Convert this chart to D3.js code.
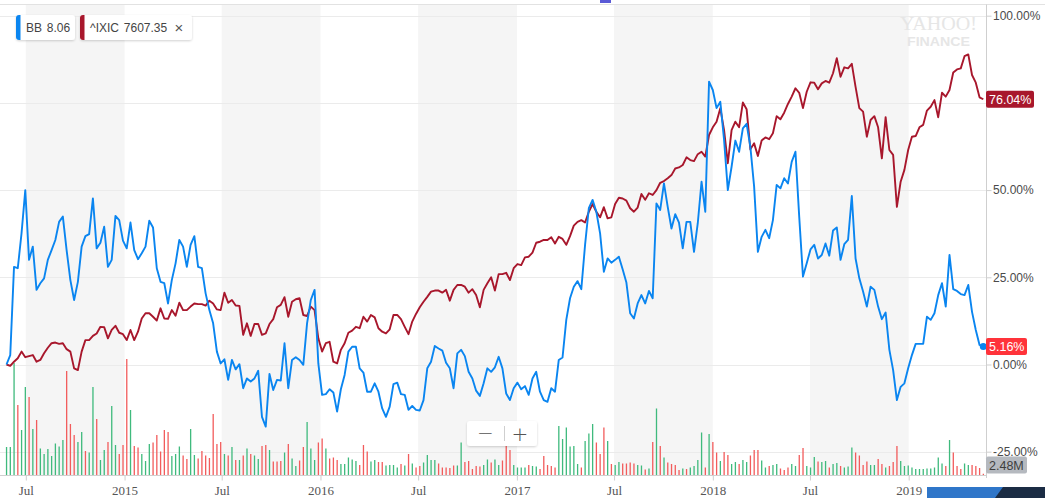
<!DOCTYPE html>
<html><head><meta charset="utf-8">
<script src="https://cdn.jsdelivr.net/npm/d3@7"></script>
<style>
body{margin:0;background:#fff;}
svg{display:block;font-family:"Liberation Sans",Arial,sans-serif;}
</style>
</head><body>
<svg id="chart" width="1045" height="498"></svg>
<script>
// ---------- DATA (weekly, starting week of 2014-05-26) ----------
const startDate = new Date(Date.UTC(2014, 4, 26));
const seriesNames = ["BB", "^IXIC"];
const seriesQuotes = ["8.06", "7607.35"];

// BB % change since start
const bbPct = [
  0, 2.7, 28.0, 27.6, 37.6, 50.0, 30.0, 33.8, 21.4, 23.3,
  24.7, 30.0, 32.8, 35.7, 40.9, 42.4, 32.8, 24.2, 18.5, 23.7,
  33.8, 36.8, 37.4, 47.6, 33.3, 34.9, 39.5, 28.0, 30.0, 42.6,
  41.4, 35.5, 33.3, 40.7, 32.8, 30.2, 31.9, 33.8, 41.2, 39.3,
  27.6, 23.7, 23.3, 17.5, 24.2, 29.0, 35.7, 33.8, 28.0, 34.3,
  36.8, 28.0, 27.6, 20.4, 15.6, 11.8, 3.7, 0.3, 1.5, -4.4,
  1.3, -1.4, 0.1, -6.8, -4.0, -4.9, -4.0, -1.8, -15.0, -17.8,
  -2.7, -7.3, -4.4, -4.6, 6.1, -6.8, 1.3, 2.1, 1.3, -0.1,
  11.8, 18.5, 21.4, 0.3, -8.7, -8.5, -7.1, -8.0, -13.5, -7.1,
  -3.0, 3.7, 5.1, 5.1, -1.1, -2.3, -7.8, -7.8, -5.4, -7.8,
  -12.6, -15.0, -12.1, -5.6, -5.2, -8.5, -8.7, -13.0, -11.9, -13.0,
  -13.2, -10.2, -1.1, 0.8, 5.3, 4.6, 4.0, 0.5, -1.1, -6.8,
  3.2, 4.2, 2.4, -2.1, -4.0, -7.5, -9.0, -5.4, -1.1, -2.1,
  -0.8, 2.2, -1.1, -8.3, -10.2, -6.8, -5.2, -7.1, -6.2, -8.7,
  -4.0, -2.1, -7.8, -10.2, -10.7, -6.8, -7.8, 1.3, 2.0, 12.8,
  19.0, 22.3, 23.9, 21.6, 34.3, 44.8, 47.2, 43.8, 37.6, 26.6,
  30.4, 29.2, 30.0, 30.9, 27.3, 23.5, 14.7, 13.2, 17.5, 19.9,
  17.5, 21.1, 19.0, 46.2, 44.3, 51.9, 45.2, 39.0, 43.1, 40.7,
  33.3, 40.9, 40.9, 32.3, 40.5, 52.4, 43.8, 81.1, 78.7, 73.5,
  75.3, 64.4, 50.0, 56.7, 64.2, 61.0, 67.7, 69.0, 62.4, 51.0,
  32.3, 36.6, 38.6, 36.2, 41.4, 51.5, 50.5, 53.4, 51.9, 58.1,
  61.0, 42.4, 25.2, 29.0, 33.0, 34.3, 30.4, 31.4, 34.7, 31.2,
  38.4, 39.3, 30.0, 34.5, 35.7, 48.3, 30.4, 24.7, 20.9, 16.6,
  22.3, 21.4, 16.6, 13.0, 14.9, 4.2, -1.6, -10.2, -6.4, -5.4,
  -1.1, 2.7, 5.9, 5.9, 5.9, 13.7, 12.8, 14.7, 19.9, 23.3,
  16.6, 31.4, 21.6, 21.1, 20.2, 19.9, 22.8, 15.1, 9.9, 5.6, 5.16
];

// ^IXIC % change since start
const ixicPct = [
  0, -0.4, 0.8, 1.8, 3.7, 2.1, 2.4, 2.7, 0.8, 1.3,
  3.2, 4.8, 6.1, 6.3, 5.9, 6.1, 4.4, 3.7, -1.1, -1.6,
  3.7, 7.0, 7.0, 8.2, 8.9, 10.8, 10.7, 7.5, 9.9, 11.1,
  9.1, 8.7, 7.0, 9.9, 7.0, 9.4, 13.2, 14.7, 14.7, 13.7,
  12.6, 16.1, 13.2, 13.1, 15.6, 14.0, 17.7, 15.6, 15.6, 16.6,
  17.5, 17.3, 17.3, 16.9, 18.3, 17.5, 15.8, 15.6, 20.6, 17.7,
  18.5, 16.9, 16.8, 8.5, 11.8, 8.2, 11.6, 11.6, 8.5, 8.9,
  11.6, 13.0, 16.4, 17.1, 19.3, 13.7, 18.0, 18.7, 19.0, 14.2,
  13.9, 16.6, 15.6, 7.5, 3.7, 6.1, 6.5, 0.8, 0.3, 4.2,
  6.1, 9.1, 9.7, 10.8, 10.4, 13.7, 12.3, 14.2, 13.5, 10.4,
  9.4, 8.9, 10.1, 14.2, 14.2, 13.0, 10.8, 8.7, 12.3, 14.5,
  16.4, 18.0, 19.4, 20.9, 21.2, 21.2, 20.6, 21.4, 18.3, 21.4,
  22.8, 22.8, 22.3, 20.6, 21.6, 19.9, 16.4, 21.4, 23.3, 25.0,
  21.2, 25.9, 25.9, 26.3, 24.2, 27.6, 28.8, 28.5, 30.7, 30.9,
  32.1, 34.9, 35.2, 35.7, 35.7, 36.5, 34.7, 36.6, 36.0, 34.3,
  36.8, 39.8, 40.9, 41.4, 40.7, 43.8, 46.0, 43.8, 42.2, 45.1,
  41.9, 42.2, 46.0, 47.8, 47.6, 47.0, 44.8, 43.8, 45.0, 48.9,
  47.2, 49.1, 48.6, 50.0, 52.1, 52.6, 53.4, 54.3, 56.2, 56.5,
  57.2, 59.4, 58.6, 58.3, 60.3, 61.0, 59.6, 65.8, 68.0, 69.6,
  73.5, 67.2, 57.7, 67.2, 69.6, 68.0, 75.1, 73.2, 61.7, 63.4,
  59.8, 64.2, 65.1, 64.6, 66.3, 71.2, 70.3, 72.2, 74.7, 76.8,
  79.2, 77.9, 73.5, 78.2, 80.9, 80.8, 78.9, 80.6, 81.3, 80.8,
  83.5, 87.8, 82.5, 85.2, 84.9, 86.2, 79.6, 73.5, 72.5, 65.3,
  70.1, 71.2, 68.0, 59.1, 70.9, 61.5, 60.1, 45.2, 52.4, 55.8,
  61.5, 65.3, 65.5, 68.0, 68.7, 72.8, 73.9, 75.8, 70.9, 77.9,
  76.8, 78.7, 83.7, 84.6, 84.9, 88.4, 88.9, 83.0, 80.8, 76.6, 76.04
];

// BB weekly volume, millions
const volM = [
  56, 56, 224, 140, 90, 176, 156, 92, 110, 53,
  42, 52, 38, 63, 57, 70, 208, 102, 80, 66,
  86, 48, 45, 176, 112, 30, 50, 66, 138, 60,
  42, 60, 232, 130, 58, 55, 42, 28, 62, 65,
  80, 47, 90, 86, 38, 42, 57, 39, 32, 92,
  40, 33, 48, 39, 34, 122, 62, 66, 42, 39,
  56, 30, 30, 39, 53, 42, 39, 32, 58, 60,
  50, 27, 27, 28, 45, 62, 33, 18, 29, 56,
  106, 53, 30, 65, 73, 53, 33, 35, 30, 22,
  22, 35, 31, 28, 20, 60, 47, 27, 30, 26,
  26, 19, 20, 20, 15, 22, 19, 42, 23, 15,
  18, 25, 40, 30, 30, 23, 15, 15, 14, 19,
  19, 65, 26, 28, 12, 18, 17, 20, 31, 25,
  31, 20, 29, 58, 50, 20, 15, 15, 15, 20,
  18, 17, 12, 38, 20, 18, 15, 98, 72, 95,
  57, 58, 22, 15, 68, 83, 102, 65, 42, 95,
  68, 22, 20, 26, 23, 23, 25, 23, 20, 19,
  11, 13, 66, 133, 58, 35, 25, 22, 20, 10,
  13, 12, 15, 18, 30, 85, 15, 82, 66, 45,
  28, 46, 40, 22, 26, 22, 30, 26, 39, 50,
  50, 29, 15, 18, 20, 22, 13, 10, 15, 22,
  18, 40, 54, 18, 15, 36, 27, 26, 28, 15,
  22, 24, 18, 15, 17, 55, 45, 39, 20, 27,
  20, 20, 32, 22, 15, 18, 26, 58, 28, 18,
  19, 15, 12, 12, 12, 13, 13, 15, 35, 23,
  18, 70, 45, 18, 12, 23, 20, 20, 18, 14, 2.48
];

// volume bar direction: g = up week, r = down week
const volDir = (
  "gggrggrgrg" + "ggggggrrrg" + "grggrggrgg" + "rrrgrrgggr" + "rrrrgggrrg" +
  "grrrrrrrgr" + "grgrgrggrr" + "grrrgrggrr" + "gggrrgrrrg" + "ggggrrrggr" +
  "rggggrgrgr" + "rggggrrrrr" + "ggrrrrrggr" + "ggrrrggggr" + "ggrrrrrggg" +
  "gggrgggrrr" + "grggrrrrgg" + "rgrgrgrrrr" + "grggggrgrr" + "grrggrggrr" +
  "rggrggrrrg" + "grrgggrggr" + "ggrgggrrrr" + "ggrrgrrrgg" + "gggggggggg" +
  "rgrrrggrrrr"
).split("");

const yGridValues = [-25, 0, 25, 50, 75, 100];
const yLabelValues = [-25, 0, 25, 50, 100]; // 75% label is hidden under the ^IXIC badge
const lastVolumeLabel = "2.48M";

// ---------- SETUP ----------
const svg = d3.select("#chart");
const W = 1045, H = 498;
const plotRight = 986.5, plotTop = 4.5, axisY = 475.5;
const N = bbPct.length;
const dates = bbPct.map((_, i) => d3.utcDay.offset(startDate, 7 * i));

const x = d3.scaleTime().domain([dates[0], dates[N - 1]]).range([6.5, 983.3]);
const y = d3.scaleLinear().domain([-25, 100]).range([451.7, 15.7]);
const yV = d3.scaleLinear().domain([0, 240]).range([475, 355]);

const defs = svg.append("defs");
const f = defs.append("filter").attr("id", "sh").attr("x", "-20%").attr("y", "-30%").attr("width", "140%").attr("height", "170%");
f.append("feDropShadow").attr("dx", 0).attr("dy", 1).attr("stdDeviation", 1.2).attr("flood-color", "#000").attr("flood-opacity", 0.18);

svg.append("rect").attr("width", W).attr("height", H).attr("fill", "#fff");

// alternating half-year bands (Jul -> Jan)
const bandStarts = d3.utcMonth.every(6).range(dates[0], dates[N - 1]).filter(d => d.getUTCMonth() === 6);
svg.append("g").selectAll("rect").data(bandStarts).join("rect")
  .attr("x", d => x(d))
  .attr("width", d => x(d3.utcMonth.offset(d, 6)) - x(d))
  .attr("y", plotTop + 0.5)
  .attr("height", axisY - plotTop - 0.5)
  .attr("fill", "#f5f5f5");

// top border
svg.append("line").attr("x1", 0).attr("x2", W).attr("y1", plotTop).attr("y2", plotTop)
  .attr("stroke", "#e2e2e2");

// gridlines
svg.append("g").selectAll("line").data(yGridValues).join("line")
  .attr("x1", 0).attr("x2", plotRight)
  .attr("y1", d => Math.round(y(d)) + 0.5).attr("y2", d => Math.round(y(d)) + 0.5)
  .attr("stroke", "#ebebeb");

// watermark
const wm = svg.append("g").attr("fill", "#e6e6e6");
wm.append("text").attr("x", 900).attr("y", 30).attr("font-family", "Liberation Serif, serif")
  .attr("font-size", 19).attr("textLength", 77).attr("lengthAdjust", "spacingAndGlyphs").text("YAHOO!");
wm.append("text").attr("x", 907).attr("y", 45.5).attr("font-family", "Liberation Sans, Arial, sans-serif")
  .attr("font-weight", "bold").attr("font-size", 12).attr("textLength", 63).attr("lengthAdjust", "spacingAndGlyphs").text("FINANCE");

// volume bars
svg.append("g").selectAll("rect").data(volM).join("rect")
  .attr("x", (d, i) => x(dates[i]) - 0.6)
  .attr("width", 1.3)
  .attr("y", d => yV(d))
  .attr("height", d => yV(0) - yV(d))
  .attr("fill", (d, i) => volDir[i] === "g" ? "#3fba7d" : "#f25c5c");

// bottom axis
const xTicks = d3.utcMonth.every(6).range(dates[0], dates[N - 1]);
const xAxis = d3.axisBottom(x).tickValues(xTicks).tickSize(5).tickSizeOuter(0).tickPadding(5)
  .tickFormat(d => d.getUTCMonth() === 0 ? d3.utcFormat("%Y")(d) : d3.utcFormat("%b")(d));
const gx = svg.append("g").attr("transform", `translate(0,${axisY})`).call(xAxis);
gx.select(".domain").remove();
gx.selectAll(".tick line").attr("stroke", "#cfcfcf");
gx.selectAll(".tick text").attr("fill", "#555").attr("font-size", 13)
  .attr("font-family", "Liberation Serif, 'DejaVu Serif', serif");
svg.append("line").attr("x1", 0).attr("x2", plotRight).attr("y1", axisY).attr("y2", axisY).attr("stroke", "#cfcfcf");

// right axis
const yAxis = d3.axisRight(y).tickValues(yLabelValues).tickSize(5).tickPadding(1.5)
  .tickFormat(d => d.toFixed(2) + "%");
const gy = svg.append("g").attr("transform", `translate(${plotRight},0)`).call(yAxis);
gy.select(".domain").remove();
gy.selectAll(".tick line").attr("stroke", "#cfcfcf");
gy.selectAll(".tick text").attr("fill", "#4a4a4a").attr("font-size", 12)
  .attr("font-family", "Liberation Sans, Arial, sans-serif");
svg.append("line").attr("x1", plotRight).attr("x2", plotRight).attr("y1", plotTop).attr("y2", 478).attr("stroke", "#cfcfcf");

// lines
const lineGen = arr => d3.line().x((d, i) => x(dates[i])).y(d => y(d))(arr);
svg.append("path").attr("d", lineGen(ixicPct)).attr("fill", "none")
  .attr("stroke", "#a8172c").attr("stroke-width", 1.9).attr("stroke-linejoin", "round");
svg.append("path").attr("d", lineGen(bbPct)).attr("fill", "none")
  .attr("stroke", "#0a85f0").attr("stroke-width", 1.9).attr("stroke-linejoin", "round");
svg.append("circle").attr("cx", x(dates[N - 1])).attr("cy", y(bbPct[N - 1])).attr("r", 3.5).attr("fill", "#0a85f0");

// value badges
function badge(cy, label, fill, color, w) {
  const g = svg.append("g");
  g.append("rect").attr("x", plotRight - 0.5).attr("y", cy - 8.5).attr("width", w).attr("height", 17)
    .attr("rx", 2).attr("fill", fill);
  g.append("text").attr("x", plotRight + 2.5).attr("y", cy + 4.5).attr("fill", color)
    .attr("font-size", 12.5).attr("font-family", "Liberation Sans, Arial, sans-serif").text(label);
}
badge(y(ixicPct[N - 1]), ixicPct[N - 1].toFixed(2) + "%", "#a8172c", "#fff", 48);
badge(y(bbPct[N - 1]), bbPct[N - 1].toFixed(2) + "%", "#ff333a", "#fff", 41);
badge(465, lastVolumeLabel, "#b5b9bf", "#3e3e3e", 41);

// legend
const legendColors = ["#0a85f0", "#a8172c"];
const legendX = [16, 80], legendW = [59, 112];
seriesNames.forEach((name, i) => {
  const g = svg.append("g").attr("transform", `translate(${legendX[i]},15)`);
  g.append("rect").attr("width", legendW[i]).attr("height", 25).attr("rx", 3).attr("fill", "#fff").attr("filter", "url(#sh)");
  g.append("path").attr("d", "M3,0 H4.5 V25 H3 A3,3 0 0 1 0,22 V3 A3,3 0 0 1 3,0 Z").attr("fill", legendColors[i]);
  g.append("text").attr("x", 10).attr("y", 17).attr("font-size", 12).attr("fill", "#444")
    .attr("font-family", "Liberation Sans, Arial, sans-serif").attr("word-spacing", 1.5)
    .text(name + " " + seriesQuotes[i]);
  if (i === 1) {
    g.append("text").attr("x", 99).attr("y", 17.5).attr("font-size", 15).attr("fill", "#555")
      .attr("text-anchor", "middle").attr("font-family", "Liberation Sans, Arial, sans-serif").text("×");
  }
});

// zoom control
const zc = svg.append("g").attr("transform", "translate(467,421)");
zc.append("rect").attr("width", 70).attr("height", 25).attr("rx", 3).attr("fill", "#fff").attr("filter", "url(#sh)");
zc.append("line").attr("x1", 37.5).attr("x2", 37.5).attr("y1", 5).attr("y2", 20).attr("stroke", "#cfcfcf");
zc.append("text").attr("x", 18.5).attr("y", 19).attr("text-anchor", "middle").attr("font-size", 20).attr("fill", "#555")
  .attr("font-family", "DejaVu Sans, sans-serif").attr("font-weight", 300).text("−");
zc.append("text").attr("x", 53).attr("y", 19.5).attr("text-anchor", "middle").attr("font-size", 20).attr("fill", "#555")
  .attr("font-family", "DejaVu Sans, sans-serif").attr("font-weight", 300).text("+");

// top marker & bottom-right navigator strip
svg.append("rect").attr("x", 600).attr("y", 0).attr("width", 11).attr("height", 3).attr("fill", "#5a5ad6");
svg.append("rect").attr("x", 927).attr("y", 487).attr("width", 118).attr("height", 11).attr("fill", "#2f76c9");
svg.append("path").attr("d", "M995,498 L1003,487 L1045,487 L1045,498 Z").attr("fill", "#1b2c44");
</script>
</body></html>
